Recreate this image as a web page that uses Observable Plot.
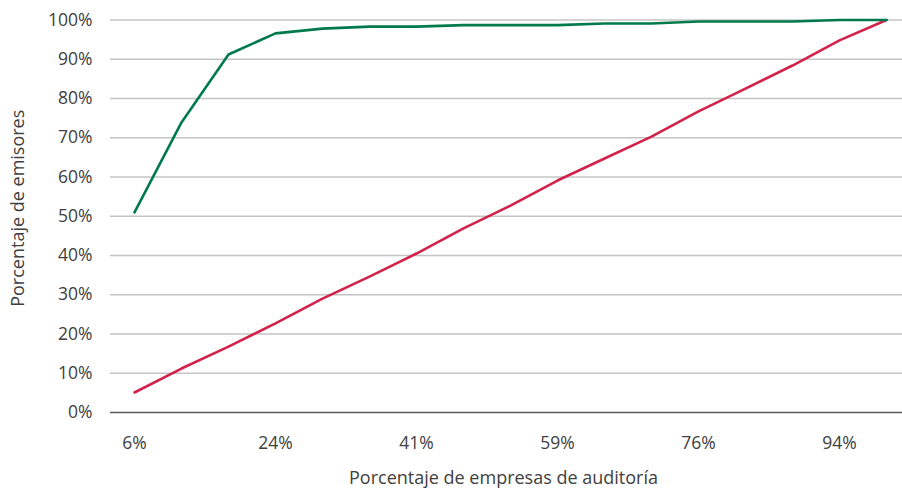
<!DOCTYPE html>
<html>
<head>
<meta charset="utf-8">
<script src="https://cdn.jsdelivr.net/npm/d3@7"></script>
<script src="https://cdn.jsdelivr.net/npm/@observablehq/plot@0.6"></script>
<style>
  html, body { margin: 0; padding: 0; background: #fff; }
  #chart svg { display: block; }
</style>
</head>
<body>
<div id="chart"></div>
<script>
// Categories: percentage of audit firms (cumulative)
const categories = ["6%","12%","18%","24%","29%","35%","41%","47%","53%","59%","65%","71%","76%","82%","88%","94%","100%"];
// Tick labels shown on the x axis
const tickLabels = ["6%","24%","41%","59%","76%","94%"];
// Y tick values
const yTicks = [0,0.1,0.2,0.3,0.4,0.5,0.6,0.7,0.8,0.9,1.0];
// Series values (share of issuers)
const greenSeries = [0.51,0.739,0.912,0.966,0.978,0.983,0.983,0.987,0.987,0.987,0.991,0.991,0.996,0.996,0.996,1.0,1.0];
const redSeries   = [0.051,0.112,0.168,0.227,0.29,0.346,0.405,0.469,0.527,0.591,0.647,0.703,0.767,0.825,0.884,0.948,1.0];
// Axis titles
const xTitle = "Porcentaje de empresas de auditoría";
const yTitle = "Porcentaje de emisores";

const greenData = categories.map((c, i) => ({x: c, y: greenSeries[i]}));
const redData = categories.map((c, i) => ({x: c, y: redSeries[i]}));

const font = "'Open Sans', 'Noto Sans', sans-serif";
const textColor = "#404040";

const chart = Plot.plot({
  width: 902,
  height: 495,
  marginLeft: 110,
  marginRight: 0,
  marginTop: 19.5,
  marginBottom: 83,
  style: {fontFamily: font, fontSize: "17.5px", color: textColor, background: "#fff"},
  x: {
    type: "point",
    domain: categories,
    padding: 0.5,
    insetRight: -8.6
  },
  y: {
    domain: [0, 1]
  },
  marks: [
    Plot.ruleY(yTicks.filter(d => d > 0), {stroke: "#c4c4c4", strokeWidth: 1.5}),
    Plot.ruleY([0], {stroke: "#595959", strokeWidth: 1.5}),
    Plot.axisX({ticks: tickLabels, tickSize: 0, tickPadding: 24, fontSize: 17.5, fill: textColor, label: null}),
    Plot.axisY({ticks: yTicks, tickFormat: d => Math.round(d * 100) + "%", tickSize: 0, tickPadding: 18, fontSize: 17.5, fill: textColor, label: null}),
    Plot.line(redData, {x: "x", y: "y", stroke: "#d2224a", strokeWidth: 2.6}),
    Plot.line(greenData, {x: "x", y: "y", stroke: "#007a4d", strokeWidth: 2.6}),
    Plot.text([xTitle], {frameAnchor: "bottom", dy: 71, dx: -3, fontSize: 18, fill: textColor, lineAnchor: "bottom", textAnchor: "middle"}),
    Plot.text([yTitle], {frameAnchor: "left", dx: -92, dy: -8, rotate: -90, fontSize: 18, fill: textColor, textAnchor: "middle", lineAnchor: "middle"})
  ]
});
document.getElementById("chart").appendChild(chart);
</script>
</body>
</html>
